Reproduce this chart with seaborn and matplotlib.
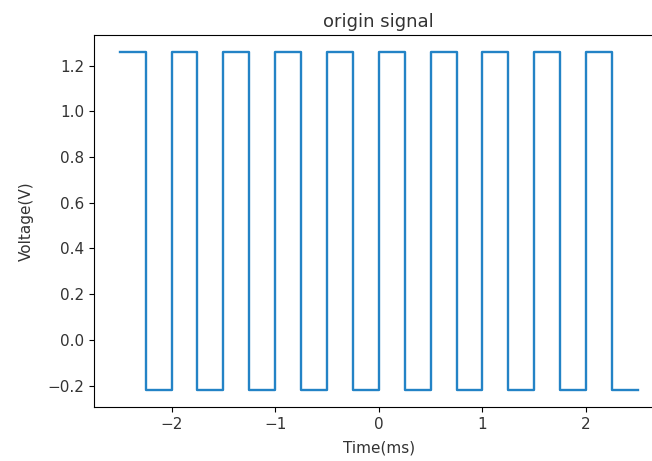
import pandas as pd
import numpy as np
import seaborn as sns
import matplotlib
matplotlib.use('Agg')
import matplotlib.pyplot as plt

# edges of the square wave (ms) and the level that starts at each edge (V)
edge_times = [-2.5, -2.25, -2.0, -1.75, -1.5, -1.25, -1.0, -0.75, -0.5, -0.25,
              0.0, 0.25, 0.5, 0.75, 1.0, 1.25, 1.5, 1.75, 2.0, 2.25, 2.5]
levels = [1.26, -0.22, 1.26, -0.22, 1.26, -0.22, 1.26, -0.22, 1.26, -0.22,
          1.26, -0.22, 1.26, -0.22, 1.26, -0.22, 1.26, -0.22, 1.26, -0.22, -0.22]

df = pd.DataFrame({'t': edge_times, 'v': levels})

fig = plt.figure(figsize=(6.52, 4.61), dpi=100)
# the original screenshot is cut on the right, so the axes run past the edge
ax = fig.add_axes([0.144, 0.117, 0.874, 0.807])
sns.lineplot(data=df, x='t', y='v', drawstyle='steps-post', color='#2383c6',
             linewidth=1.7, ax=ax)
ax.set_title('origin signal', fontsize=13, color='#333333')
ax.set_xlabel('Time(ms)', fontsize=11, labelpad=6, color='#333333')
ax.set_ylabel('Voltage(V)', fontsize=11, labelpad=10, color='#333333')
ax.set_xticks([-2, -1, 0, 1, 2])
ax.set_xticklabels(['\u22122', '\u22121', '0', '1', '2'])
ax.tick_params(labelsize=11, labelcolor='#333333')
fig.savefig('out.png', dpi=100)
